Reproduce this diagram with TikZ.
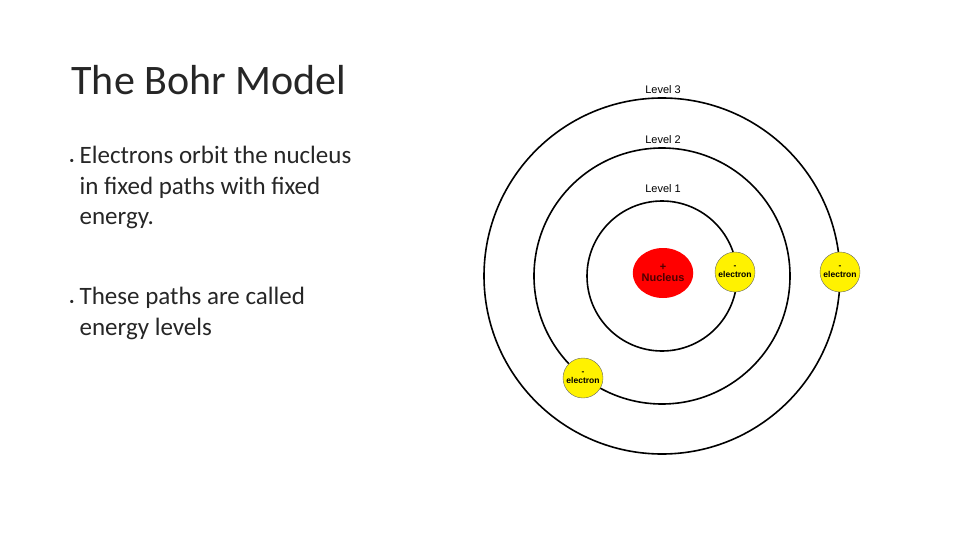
\documentclass[tikz,border=0pt]{standalone}
\usepackage{fontspec}
\setmainfont{Carlito}
\newfontfamily\arialfont{Liberation Sans}
\usetikzlibrary{positioning,shapes.geometric}
\tikzstyle{orbit} = [draw=black, line width=1.6pt]
\tikzstyle{electron} = [circle, fill=yellow, draw=black!60, minimum size=40pt, inner sep=0pt, align=center, font=\arialfont\bfseries\fontsize{8.5}{9}\selectfont]
\tikzstyle{level} = [font=\arialfont\fontsize{11}{12}\selectfont]
\tikzstyle{bullet} = [anchor=north west, align=left, text=black!85, font=\fontsize{25}{30.5}\selectfont]

\begin{document}
\begin{tikzpicture}[x=1pt, y=-1pt]
        \useasboundingbox (0,0) rectangle (960,540);
        \node (Title) [anchor=west, text=black!85, font=\fontsize{42}{44}\selectfont] at (68,80) {The Bohr Model};
        \node (B1) [bullet] at (66,143) {{\small\textbullet}\ Electrons orbit the nucleus\\\phantom{{\small\textbullet}\ }in fixed paths with fixed\\\phantom{{\small\textbullet}\ }energy.};
        \node (B2) [bullet] at (66,284) {{\small\textbullet}\ These paths are called\\\phantom{{\small\textbullet}\ }energy levels};

        \coordinate (C) at (662,276);
        \draw [orbit] (C) circle [radius=75];
        \draw [orbit] (C) circle [radius=128];
        \draw [orbit] (C) circle [radius=178];
        \node (L3) [level] at (663,90) {Level 3};
        \node (L2) [level] at (663,140) {Level 2};
        \node (L1) [level] at (663,189) {Level 1};

        \node (Nuc) [ellipse, fill=red, minimum width=56pt, minimum height=50pt, inner sep=0pt, align=center, text=black!70!red, font=\arialfont\bfseries\fontsize{11}{11}\selectfont] at (663,273) {+\\Nucleus};
        \node (E1) [electron] at (735,272) {-\\electron};
        \node (E3) [electron] at (840,272) {-\\electron};
        \node (E2) [electron] at (583,378) {-\\electron};
    \end{tikzpicture}
\end{document}
